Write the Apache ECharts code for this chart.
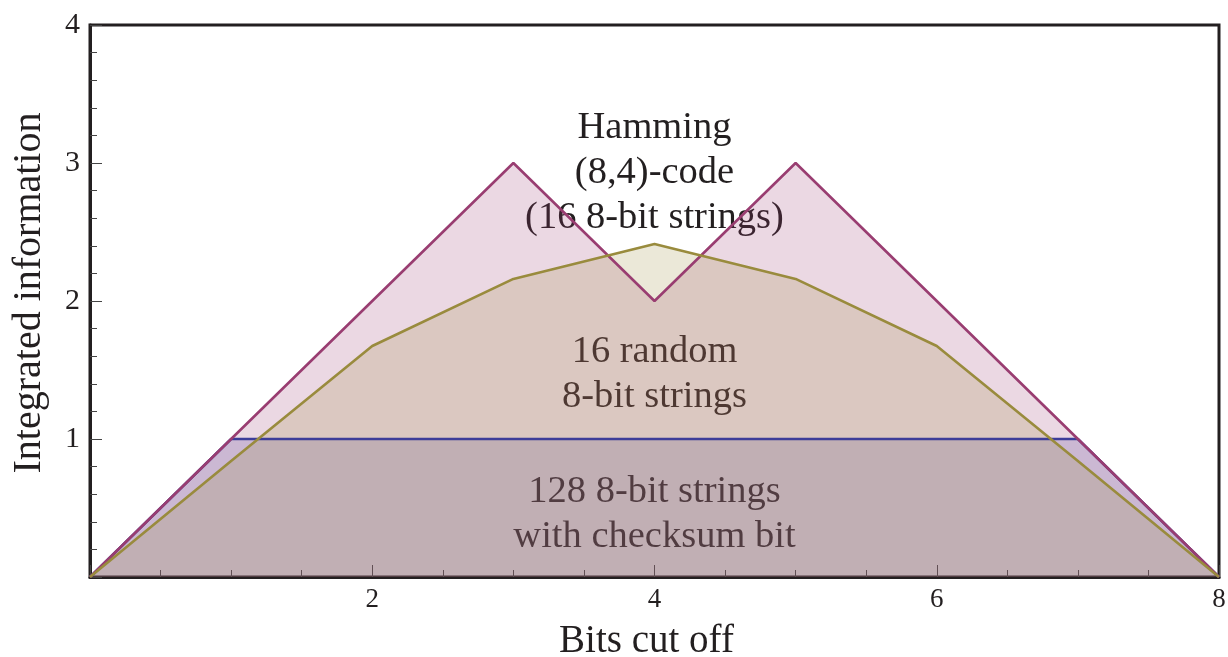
<!DOCTYPE html>
<html>
<head>
<meta charset="utf-8">
<script src="https://cdn.jsdelivr.net/npm/echarts@6/dist/echarts.min.js"></script>
<style>
  html, body { margin: 0; padding: 0; background: #ffffff; }
  #chart { width: 1228px; height: 657px; }
</style>
</head>
<body>
<div id="chart"></div>
<script>
// Bits cut off (x) for every curve
const bitsCut = [0, 1, 2, 3, 4, 5, 6, 7, 8];
// Integrated information for each ensemble
const checksumInfo = [0, 1, 1, 1, 1, 1, 1, 1, 0];
const hammingInfo  = [0, 1, 2, 3, 2, 3, 2, 1, 0];
const randomInfo   = [0, 0.84, 1.674, 2.16, 2.413, 2.16, 1.674, 0.84, 0];

// Curve labels placed inside the plot (x, y in data units)
const noteText = [
  'Hamming\n(8,4)-code\n(16 8-bit strings)',
  '16 random\n8-bit strings',
  '128 8-bit strings\nwith checksum bit'
];
const noteX = [4, 4, 4];
const noteY = [2.93, 1.47, 0.455];

const FONT = "'Liberation Serif', 'Times New Roman', serif";
const INK = '#231f20';

const curves = [
  { name: 'checksum', values: checksumInfo, color: 'rgb(61,61,153)' },
  { name: 'hamming',  values: hammingInfo,  color: 'rgb(153,61,113)' },
  { name: 'random',   values: randomInfo,   color: 'rgb(153,139,61)' }
];

const pairs = v => bitsCut.map((x, i) => [x, v[i]]);

const series = [];

// Text sits underneath the translucent fills
series.push({
  type: 'scatter',
  z: 1,
  silent: true,
  symbolSize: 1,
  itemStyle: { color: 'rgba(0,0,0,0)', opacity: 1 },
  data: noteX.map((x, i) => ({ value: [x, noteY[i]], text: noteText[i] })),
  label: {
    show: true,
    position: 'inside',
    formatter: p => p.data.text,
    fontFamily: FONT,
    fontSize: 38.5,
    lineHeight: 45,
    color: INK,
    opacity: 1,
    align: 'center'
  }
});

// Filled areas first
curves.forEach(c => {
  series.push({
    type: 'line',
    name: c.name + '-fill',
    z: 2,
    silent: true,
    symbol: 'none',
    data: pairs(c.values),
    lineStyle: { width: 0, opacity: 0 },
    areaStyle: { color: c.color, opacity: 0.2 }
  });
});

// Outlines on top
curves.forEach((c, i) => {
  series.push({
    type: 'line',
    name: c.name,
    z: 3 + i,
    silent: true,
    symbol: 'none',
    data: pairs(c.values),
    lineStyle: { width: 2.6, color: c.color }
  });
});

const chart = echarts.init(document.getElementById('chart'), null, { renderer: 'canvas' });
chart.setOption({
  animation: false,
  backgroundColor: '#ffffff',
  grid: {
    left: 90, right: 9, top: 25, bottom: 80,
    containLabel: false,
    outerBoundsMode: 'none',
    show: true, borderColor: INK, borderWidth: 3, backgroundColor: 'transparent'
  },
  xAxis: {
    type: 'value',
    min: 0, max: 8, interval: 2,
    name: 'Bits cut off',
    nameLocation: 'middle',
    nameGap: 45,
    nameTextStyle: {
      fontFamily: FONT, fontSize: 39, color: INK,
      padding: [0, 16, 0, 0]
    },
    axisLine: { show: true, lineStyle: { color: INK, width: 3 } },
    axisTick: { show: true, inside: true, length: 12, lineStyle: { color: '#444', width: 1 } },
    minorTick: { show: true, splitNumber: 4, length: 7, lineStyle: { color: '#444', width: 1 } },
    splitLine: { show: false },
    axisLabel: {
      fontFamily: FONT, fontSize: 27, color: INK, margin: 9,
      formatter: v => (v === 0 ? '' : String(v))
    }
  },
  yAxis: {
    type: 'value',
    min: 0, max: 4, interval: 1,
    name: 'Integrated information',
    nameLocation: 'middle',
    nameGap: 41,
    nameTextStyle: {
      fontFamily: FONT, fontSize: 40, color: INK,
      padding: [0, 0, 0, 16]
    },
    axisLine: { show: true, lineStyle: { color: INK, width: 3 } },
    axisTick: { show: true, inside: true, length: 12, lineStyle: { color: '#444', width: 1 } },
    minorTick: { show: true, splitNumber: 5, length: 7, lineStyle: { color: '#444', width: 1 } },
    splitLine: { show: false },
    axisLabel: {
      fontFamily: FONT, fontSize: 30, color: INK, margin: 10,
      formatter: v => (v === 0 ? '' : String(v))
    }
  },
  series: series
});
</script>
</body>
</html>
